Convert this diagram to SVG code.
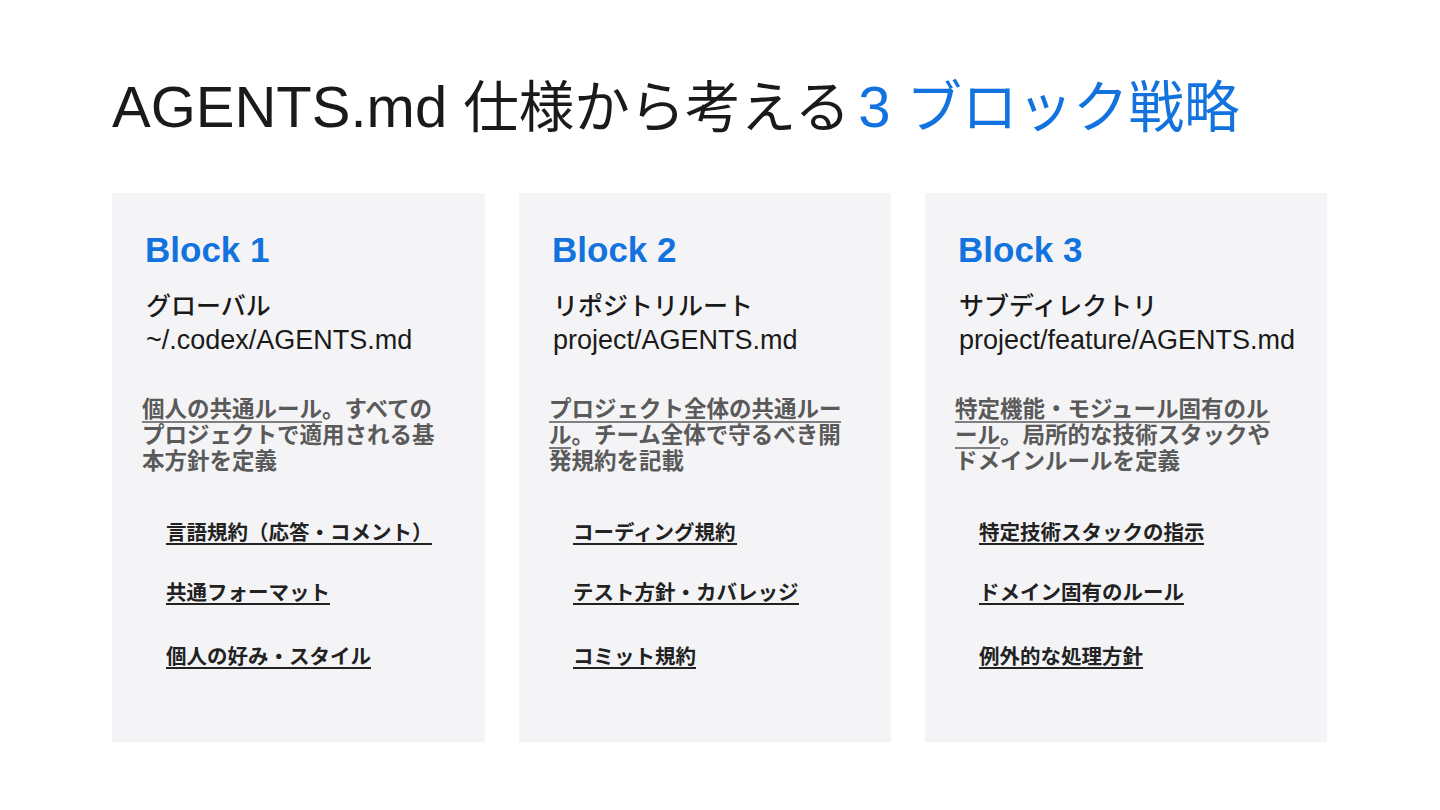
<svg xmlns="http://www.w3.org/2000/svg" width="1440" height="810" viewBox="0 0 1440 810">
<style>
.jp{font-family:"Liberation Sans","Noto Sans CJK JP",sans-serif}
.title{font-size:58px;fill:#1a1a1a}
.tcjk{font-family:"Noto Sans CJK JP",sans-serif;font-size:55.5px}
.blue{fill:#1273de}
.panel{fill:#f4f4f6}
.head{font-family:"Liberation Sans",sans-serif;font-size:35px;font-weight:700;fill:#1273de}
.sub{font-family:"Noto Sans CJK JP",sans-serif;font-size:25px;font-weight:500;fill:#1a1a1a}
.path{font-family:"Liberation Sans",sans-serif;font-size:27px;fill:#1a1a1a}
.desc{font-family:"Noto Sans CJK JP",sans-serif;font-size:22.5px;font-weight:600;fill:#5a5a5a}
.item{font-family:"Noto Sans CJK JP",sans-serif;font-size:20.5px;font-weight:700;fill:#222}
.ul1{stroke:#5a5a5a;stroke-width:1.6}
.ul2{stroke:#222;stroke-width:2}
</style>
<rect width="1440" height="810" fill="#ffffff"/>
<g id="title">
<text x="112" y="127" class="jp title"><tspan font-family="Liberation Sans">AGENTS.md </tspan><tspan class="tcjk">仕様から考える</tspan><tspan class="blue" font-family="Liberation Sans" dx="8">3 </tspan><tspan class="tcjk blue">ブロック戦略</tspan></text>
</g>
<g id="block1">
<rect class="panel" x="112" y="193" width="373" height="549"/>
<text class="head" x="145" y="262">Block 1</text>
<text class="sub" x="146" y="315">グローバル</text>
<text class="path" x="146" y="349">~/.codex/AGENTS.md</text>
<text class="desc" x="142" y="417">個人の共通ルール。すべての</text>
<text class="desc" x="142" y="443">プロジェクトで適用される基</text>
<text class="desc" x="142" y="469">本方針を定義</text>
<line class="ul1" x1="142" y1="422" x2="322" y2="422"/>
<text class="item" x="166" y="540">言語規約（応答・コメント）</text>
<line class="ul2" x1="166" y1="544" x2="432" y2="544"/>
<text class="item" x="166" y="600">共通フォーマット</text>
<line class="ul2" x1="166" y1="604" x2="330" y2="604"/>
<text class="item" x="166" y="664">個人の好み・スタイル</text>
<line class="ul2" x1="166" y1="668" x2="371" y2="668"/>
</g>
<g id="block2">
<rect class="panel" x="519" y="193" width="372" height="549"/>
<text class="head" x="552" y="262">Block 2</text>
<text class="sub" x="553" y="315">リポジトリルート</text>
<text class="path" x="553" y="349">project/AGENTS.md</text>
<text class="desc" x="549" y="417">プロジェクト全体の共通ルー</text>
<text class="desc" x="549" y="443">ル。チーム全体で守るべき開</text>
<text class="desc" x="549" y="469">発規約を記載</text>
<line class="ul1" x1="549" y1="422" x2="841" y2="422"/>
<line class="ul1" x1="549" y1="448" x2="571" y2="448"/>
<text class="item" x="573" y="540">コーディング規約</text>
<line class="ul2" x1="573" y1="544" x2="737" y2="544"/>
<text class="item" x="573" y="600">テスト方針・カバレッジ</text>
<line class="ul2" x1="573" y1="604" x2="799" y2="604"/>
<text class="item" x="573" y="664">コミット規約</text>
<line class="ul2" x1="573" y1="668" x2="696" y2="668"/>
</g>
<g id="block3">
<rect class="panel" x="925" y="193" width="402" height="549"/>
<text class="head" x="958" y="262">Block 3</text>
<text class="sub" x="959" y="315">サブディレクトリ</text>
<text class="path" x="959" y="349">project/feature/AGENTS.md</text>
<text class="desc" x="955" y="417">特定機能・モジュール固有のル</text>
<text class="desc" x="955" y="443">ール。局所的な技術スタックや</text>
<text class="desc" x="955" y="469">ドメインルールを定義</text>
<line class="ul1" x1="955" y1="422" x2="1270" y2="422"/>
<line class="ul1" x1="955" y1="448" x2="1000" y2="448"/>
<text class="item" x="979" y="540">特定技術スタックの指示</text>
<line class="ul2" x1="979" y1="544" x2="1204" y2="544"/>
<text class="item" x="979" y="600">ドメイン固有のルール</text>
<line class="ul2" x1="979" y1="604" x2="1184" y2="604"/>
<text class="item" x="979" y="664">例外的な処理方針</text>
<line class="ul2" x1="979" y1="668" x2="1143" y2="668"/>
</g>
<g id="connectors"></g>
</svg>
